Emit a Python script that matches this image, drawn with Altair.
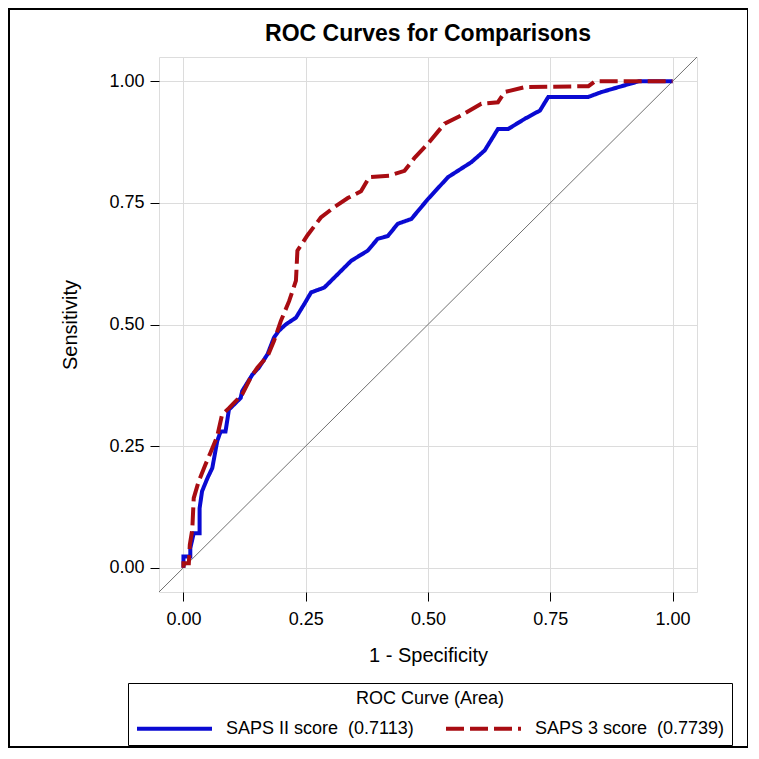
import altair as alt
import pandas as pd

# ---- data ----
series_names = ["SAPS II score\u00a0 (0.7113)", "SAPS 3 score\u00a0 (0.7739)"]
series_colors = ["#0A0AD2", "#A80C12"]
series_dashes = [[1, 0], [18, 6]]

saps2_x = [0, 0, 0.014, 0.014, 0.021, 0.033, 0.033, 0.038, 0.049, 0.059,
           0.069, 0.076, 0.086, 0.093, 0.117, 0.120, 0.141, 0.154, 0.172, 0.185,
           0.195, 0.209, 0.230, 0.247, 0.261, 0.288, 0.308, 0.343, 0.377, 0.397,
           0.418, 0.438, 0.466, 0.500, 0.541, 0.589, 0.616, 0.643, 0.664, 0.698,
           0.729, 0.746, 0.828, 0.855, 0.903, 0.931, 1.0]
saps2_y = [0, 0.023, 0.023, 0.040, 0.071, 0.071, 0.122, 0.157, 0.184, 0.205,
           0.260, 0.280, 0.280, 0.325, 0.349, 0.363, 0.397, 0.411, 0.439, 0.473,
           0.487, 0.500, 0.514, 0.542, 0.566, 0.576, 0.596, 0.631, 0.652, 0.676,
           0.682, 0.707, 0.717, 0.758, 0.803, 0.834, 0.858, 0.902, 0.902, 0.923,
           0.940, 0.968, 0.968, 0.978, 0.992, 1.0, 1.0]

saps3_x = [0, 0, 0.011, 0.013, 0.018, 0.021, 0.031, 0.045, 0.055, 0.069,
           0.079, 0.093, 0.120, 0.137, 0.151, 0.172, 0.185, 0.199, 0.216, 0.230,
           0.233, 0.254, 0.281, 0.308, 0.336, 0.363, 0.380, 0.421, 0.452, 0.472,
           0.500, 0.534, 0.568, 0.609, 0.643, 0.657, 0.698, 0.828, 0.842, 1.0]
saps3_y = [0, 0.009, 0.009, 0.047, 0.078, 0.143, 0.177, 0.212, 0.236, 0.270,
           0.315, 0.328, 0.356, 0.390, 0.411, 0.435, 0.466, 0.507, 0.548, 0.590,
           0.652, 0.684, 0.720, 0.741, 0.760, 0.774, 0.803, 0.806, 0.816, 0.842,
           0.872, 0.913, 0.930, 0.954, 0.957, 0.978, 0.988, 0.990, 1.0, 1.0]

diag_vals = [-0.05, 1.05]
tick_vals = [0, 0.25, 0.5, 0.75, 1.0]
axis_domain = [-0.05, 1.05]

FONT = "Liberation Sans"

df2 = pd.DataFrame({"x": saps2_x, "y": saps2_y, "series": series_names[0],
                    "i": range(len(saps2_x))})
df3 = pd.DataFrame({"x": saps3_x, "y": saps3_y, "series": series_names[1],
                    "i": range(len(saps3_x))})
diag = pd.DataFrame({"x": diag_vals, "y": diag_vals})

xscale = alt.Scale(domain=axis_domain, nice=False, zero=False)
yscale = alt.Scale(domain=axis_domain, nice=False, zero=False)

xaxis = alt.Axis(values=tick_vals, format=".2f", title="1 - Specificity",
                 grid=True, gridColor="#DCDCDC", gridWidth=1,
                 domain=False, tickColor="black", tickSize=9, labelPadding=9,
                 labelFontSize=18, titleFontSize=20, titleFontWeight="normal",
                 labelFont=FONT, titleFont=FONT, labelColor="black",
                 titleColor="black", titlePadding=17)
yaxis = alt.Axis(values=tick_vals, format=".2f", title="Sensitivity",
                 grid=True, gridColor="#DCDCDC", gridWidth=1,
                 domain=False, tickColor="black", tickSize=9, labelPadding=6,
                 labelFontSize=18, titleFontSize=20, titleFontWeight="normal",
                 labelFont=FONT, titleFont=FONT, labelColor="black",
                 titleColor="black", titlePadding=28)

legend = alt.Legend(orient="none", legendX=-31, legendY=626,
                    direction="horizontal", title="ROC Curve (Area)",
                    titleAnchor="middle", titleFontSize=18,
                    titleFontWeight="normal", titleFont=FONT,
                    titleColor="black", labelFontSize=18, labelFont=FONT,
                    labelColor="black", labelLimit=0,
                    symbolType="M-3,0L3,0", symbolSize=625, symbolStrokeWidth=4,
                    symbolOffset=25,
                    strokeColor="black", fillColor="white", padding=7,
                    columnPadding=24, labelOffset=37, titlePadding=6)

color_enc = alt.Color("series:N",
                      scale=alt.Scale(domain=series_names, range=series_colors),
                      legend=legend, sort=series_names)
dash_enc = alt.StrokeDash("series:N",
                          scale=alt.Scale(domain=series_names, range=series_dashes),
                          legend=legend, sort=series_names)

base_x = alt.X("x:Q", scale=xscale, axis=xaxis)
base_y = alt.Y("y:Q", scale=yscale, axis=yaxis)

diag_layer = alt.Chart(diag).mark_line(color="#707070", strokeWidth=1).encode(
    x=base_x, y=base_y)

line2 = alt.Chart(df2).mark_line(strokeWidth=4).encode(
    x=base_x, y=base_y, order="i:Q", color=color_enc, strokeDash=dash_enc)
line3 = alt.Chart(df3).mark_line(strokeWidth=4).encode(
    x=base_x, y=base_y, order="i:Q", color=color_enc, strokeDash=dash_enc)

border = alt.Chart(alt.Data(values=[{}])).mark_rect(
    filled=False, stroke="black", strokeWidth=2).encode(
    x=alt.value(-150), x2=alt.value(589), y=alt.value(-48), y2=alt.value(690))

chart = alt.layer(diag_layer, line2, line3, border).properties(
    width=538, height=535,
    title=alt.TitleParams("ROC Curves for Comparisons", fontSize=23,
                          fontWeight="bold", font=FONT, anchor="middle",
                          frame="group", offset=11, dy=49, color="black"),
    autosize=alt.AutoSizeParams(type="none"),
    padding={"left": 151, "top": 49, "right": 51, "bottom": 156},
).configure_view(stroke="black", strokeWidth=1.5).configure(background="white")

chart.save("out.html", embed_options={"renderer": "svg", "actions": False})
